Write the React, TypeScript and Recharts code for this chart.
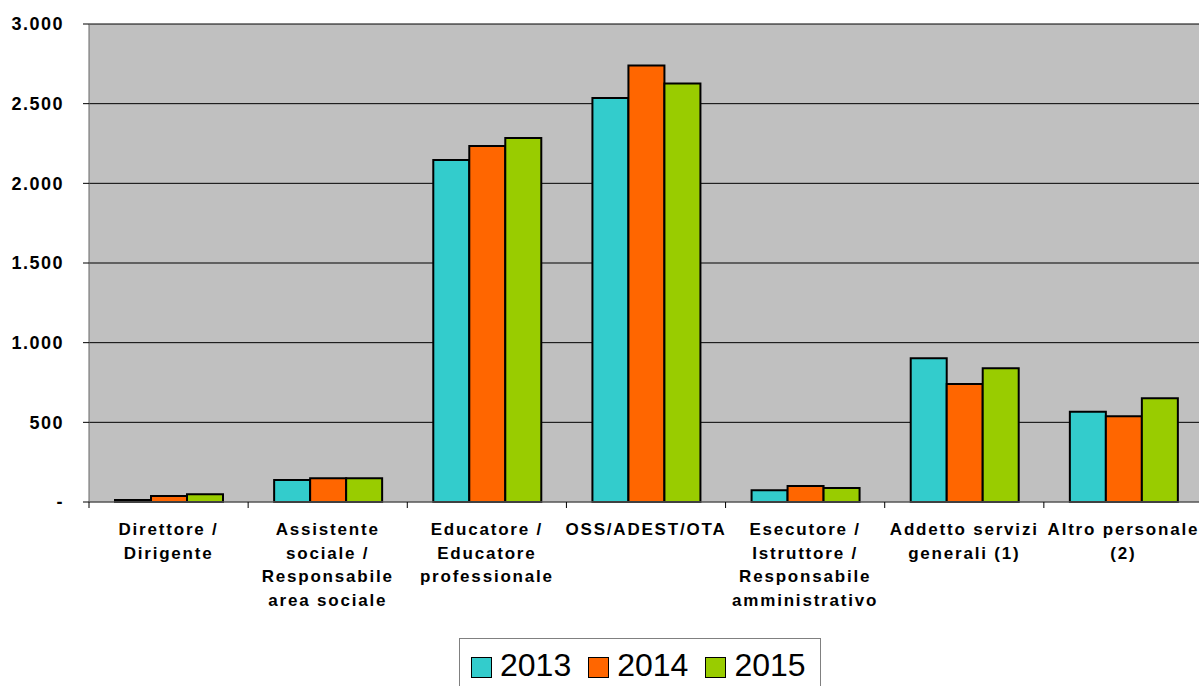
import React from "react";
import {
  BarChart,
  Bar,
  XAxis,
  YAxis,
  CartesianGrid,
  Legend,
} from "recharts";

// ruoli del personale (etichette asse X, su più righe)
const categories = [
  ["Direttore /", "Dirigente"],
  ["Assistente", "sociale /", "Responsabile", "area sociale"],
  ["Educatore /", "Educatore", "professionale"],
  ["OSS/ADEST/OTA"],
  ["Esecutore /", "Istruttore /", "Responsabile", "amministrativo"],
  ["Addetto servizi", "generali (1)"],
  ["Altro personale", "(2)"],
];

const values2013 = [12, 138, 2147, 2536, 73, 902, 567];
const values2014 = [38, 149, 2235, 2739, 100, 741, 538];
const values2015 = [48, 149, 2285, 2626, 88, 839, 651];

const years = ["2013", "2014", "2015"];
const colors = ["#33CCCC", "#FF6600", "#99CC00"];
const yTicks = [0, 500, 1000, 1500, 2000, 2500, 3000];

const data = categories.map((lines, i) => ({
  name: lines.join(" "),
  lines,
  "2013": values2013[i],
  "2014": values2014[i],
  "2015": values2015[i],
}));

const FONT = "'Liberation Sans', Arial, Helvetica, sans-serif";

const formatY = (v: number) =>
  v === 0 ? "-" : v.toLocaleString("it-IT").replace(/\s/g, ".");

function CategoryTick(props: any) {
  const { x, y, payload, index } = props;
  const lines: string[] = data[index]?.lines ?? [payload.value];
  const half = payload.offset ?? 0;
  const axisY = y - 8;
  return (
    <g>
      <line x1={x - half} x2={x - half} y1={axisY} y2={axisY + 6} stroke="#000" />
      <text
        x={x}
        y={y + 25}
        textAnchor="middle"
        fontFamily={FONT}
        fontWeight="bold"
        fontSize={17}
        letterSpacing={1.8}
        fill="#000"
      >
        {lines.map((l, i) => (
          <tspan key={i} x={x} dy={i === 0 ? 0 : 23.7}>
            {l}
          </tspan>
        ))}
      </text>
    </g>
  );
}

function LegendBox() {
  return (
    <div
      style={{
        width: 362,
        height: 60,
        border: "1px solid #808080",
        background: "#fff",
        display: "flex",
        alignItems: "flex-start",
        paddingTop: 10,
        paddingLeft: 11,
        boxSizing: "border-box",
        fontFamily: FONT,
        fontSize: 32,
        lineHeight: "32px",
        color: "#000",
      }}
    >
      {years.map((yr, i) => (
        <div key={yr} style={{ display: "flex", alignItems: "center", marginRight: 17 }}>
          <span
            style={{
              display: "inline-block",
              width: 19,
              height: 19,
              background: colors[i],
              border: "1.5px solid #000",
              marginRight: 8,
              marginTop: 5,
            }}
          />
          <span>{yr}</span>
        </div>
      ))}
    </div>
  );
}

export default function App() {
  return (
    <div
      style={{
        position: "absolute",
        left: 0,
        top: 0,
        width: 1199,
        height: 686,
        overflow: "hidden",
        background: "#fff",
      }}
    >
      <BarChart
        width={1203}
        height={686}
        data={data}
        margin={{ top: 24, right: 0, bottom: 0, left: 0 }}
        barCategoryGap={26}
        barGap={0}
      >
        <CartesianGrid vertical={false} stroke="#000" fill="#C0C0C0" fillOpacity={1} />
        <XAxis
          dataKey="name"
          height={184}
          interval={0}
          axisLine={{ stroke: "#808080" }}
          tickLine={false}
          tickSize={6}
          tickMargin={2}
          tick={<CategoryTick />}
        />
        <YAxis
          width={89}
          domain={[0, 3000]}
          ticks={yTicks}
          tickFormatter={formatY}
          axisLine={{ stroke: "#666" }}
          tickLine={{ stroke: "#000" }}
          tickSize={6}
          tickMargin={19}
          tick={{
            fill: "#000",
            fontFamily: FONT,
            fontWeight: "bold",
            fontSize: 18,
            letterSpacing: 1.5,
          }}
        />
        <Legend
          layout="horizontal"
          verticalAlign="middle"
          align="center"
          content={() => <LegendBox />}
          wrapperStyle={{ left: 459, top: 638, width: 362, height: 60 }}
        />
        {years.map((yr, i) => (
          <Bar
            key={yr}
            dataKey={yr}
            fill={colors[i]}
            stroke="#000"
            strokeWidth={2}
            isAnimationActive={false}
          />
        ))}
      </BarChart>
    </div>
  );
}
